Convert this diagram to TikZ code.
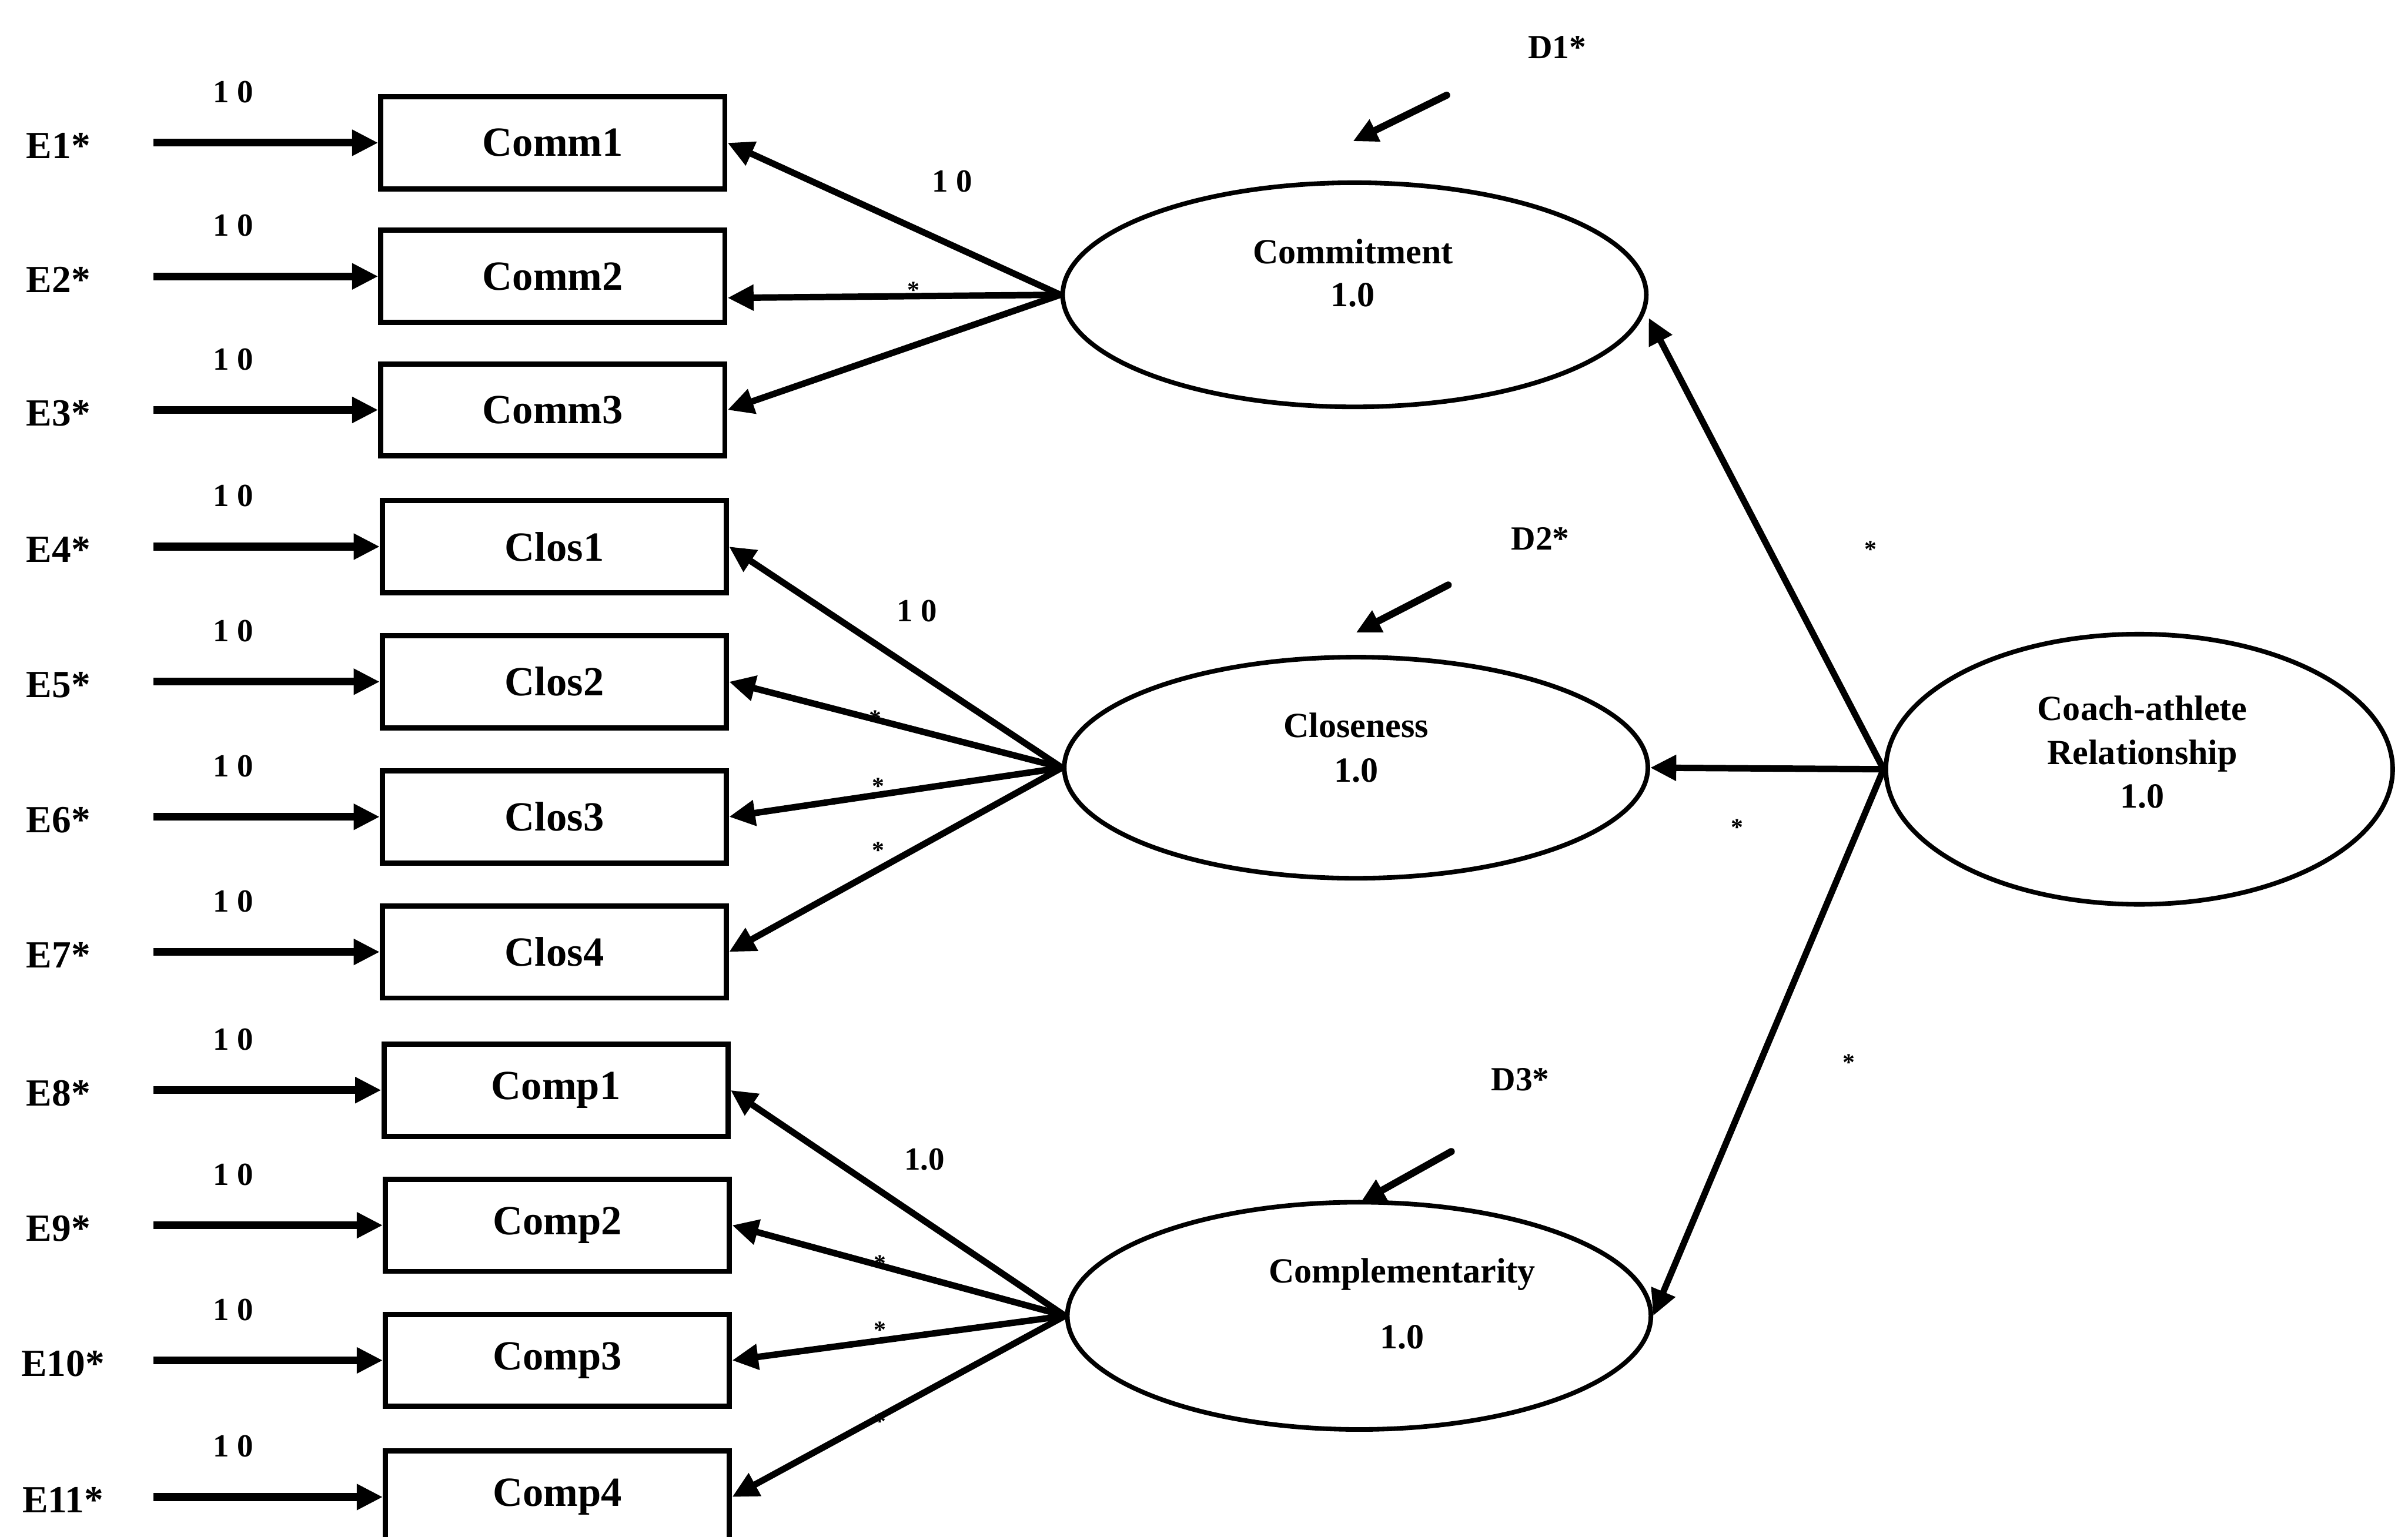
\documentclass[tikz,border=0pt]{standalone}
\usepackage{fontspec}
\setmainfont{Liberation Serif}
\usetikzlibrary{arrows.meta,shapes.geometric,calc}

\begin{document}
\begin{tikzpicture}[x=1pt,y=-1pt,
  indicator/.style={draw,line width=3.4pt,minimum width=224pt,minimum height=60pt,inner sep=0pt,
    font=\fontsize{27}{30}\selectfont\bfseries},
  latent/.style={draw,ellipse,line width=3pt,inner sep=0pt},
  lattext/.style={align=center,inner sep=0pt,font=\fontsize{23}{28}\selectfont\bfseries},
  errlab/.style={inner sep=0pt,font=\fontsize{25}{30}\selectfont\bfseries},
  fixlab/.style={inner sep=0pt,font=\fontsize{21}{24}\selectfont\bfseries},
  freelab/.style={inner sep=0pt,font=\fontsize{16}{18}\selectfont\bfseries},
  errarrow/.style={line width=5pt,-{Triangle[length=17pt,width=16pt]}},
  loadarrow/.style={line width=4.2pt,-{Triangle[length=17pt,width=16pt]}},
  distarrow/.style={line width=4.6pt,line cap=round,-{Triangle[length=16pt,width=15pt]}}]

\useasboundingbox (0,0) rectangle (1568,1001);
\clip (0,0) rectangle (1568,1001);

% observed indicators
\node[indicator] (comm1) at (360,93)  {Comm1};
\node[indicator] (comm2) at (360,180) {Comm2};
\node[indicator] (comm3) at (360,267) {Comm3};
\node[indicator] (clos1) at (361,356) {Clos1};
\node[indicator] (clos2) at (361,444) {Clos2};
\node[indicator] (clos3) at (361,532) {Clos3};
\node[indicator] (clos4) at (361,620) {Clos4};
\node[indicator] (comp1) at (362,710) {Comp1};
\node[indicator] (comp2) at (363,798) {Comp2};
\node[indicator] (comp3) at (363,886) {Comp3};
\node[indicator] (comp4) at (363,975) {Comp4};

% error terms and their fixed paths
\foreach \i/\y/\t/\lx/\tgt in {1/93/E1*/38/comm1, 2/180/E2*/38/comm2, 3/267/E3*/38/comm3,
    4/356/E4*/38/clos1, 5/444/E5*/38/clos2, 6/532/E6*/38/clos3, 7/620/E7*/38/clos4,
    8/710/E8*/38/comp1, 9/798/E9*/38/comp2, 10/886/E10*/41/comp3, 11/975/E11*/41/comp4}{
  \node[errlab] (e\i) at (\lx,\y+2) {\t};
  \coordinate (es\i) at (100,\y);
  \draw[errarrow] (es\i) -- (\tgt.west);
  \node[fixlab] (ef\i) at (152,\y-33) {1 0};
}

% latent factors
\node[latent,minimum width=380pt,minimum height=146pt] (commit) at (882,192) {};
\node[latent,minimum width=380pt,minimum height=144pt] (close)  at (883,500) {};
\node[latent,minimum width=380pt,minimum height=148pt] (compl)  at (885,857) {};
\node[latent,minimum width=330pt,minimum height=176pt] (coach)  at (1393,501) {};

\node[lattext] (committxt) at (881,178) {Commitment\\1.0};
\node[lattext,font=\fontsize{23}{29}\selectfont\bfseries] (closetxt) at (883,487) {Closeness\\1.0};
\node[lattext,font=\fontsize{23}{43}\selectfont\bfseries] (compltxt) at (913,849) {Complementarity\\1.0};
\node[lattext,font=\fontsize{23}{28.5}\selectfont\bfseries] (coachtxt) at (1395,490) {Coach-athlete\\Relationship\\1.0};

% factor loadings
\draw[loadarrow] (commit.west) -- (comm1.east);
\draw[loadarrow] (commit.west) -- ($(comm2.east)+(0,14)$);
\draw[loadarrow] (commit.west) -- (comm3.east);
\draw[loadarrow] (close.west) -- (clos1.east);
\draw[loadarrow] (close.west) -- (clos2.east);
\draw[loadarrow] (close.west) -- (clos3.east);
\draw[loadarrow] (close.west) -- (clos4.east);
\draw[loadarrow] (compl.west) -- (comp1.east);
\draw[loadarrow] (compl.west) -- (comp2.east);
\draw[loadarrow] (compl.west) -- (comp3.east);
\draw[loadarrow] (compl.west) -- (comp4.east);

\node[fixlab] (lc1) at (620,118) {1 0};
\node[freelab] (lc2) at (595,189) {*};
\node[fixlab] (ll1) at (597,398) {1 0};
\node[freelab] (ll2) at (570,468) {*};
\node[freelab] (ll3) at (572,512) {*};
\node[freelab] (ll4) at (572,554) {*};
\node[fixlab] (lp1) at (602,755) {1.0};
\node[freelab] (lp2) at (573,823) {*};
\node[freelab] (lp3) at (573,866) {*};
\node[freelab] (lp4) at (573,926) {*};

% second-order paths
\draw[loadarrow] (coach.west) -- ($(commit.east)+(0,15)$);
\draw[loadarrow] (coach.west) -- (close.east);
\draw[loadarrow] (coach.west) -- (compl.east);
\node[freelab] (s1) at (1218,358) {*};
\node[freelab] (s2) at (1131,539) {*};
\node[freelab] (s3) at (1204,692) {*};

% disturbances
\node[errlab,font=\fontsize{22}{26}\selectfont\bfseries] (d1) at (1014,31) {D1*};
\node[errlab,font=\fontsize{22}{26}\selectfont\bfseries] (d2) at (1003,351) {D2*};
\node[errlab,font=\fontsize{22}{26}\selectfont\bfseries] (d3) at (990,703) {D3*};
\coordinate (d1s) at (942,62);  \coordinate (d1e) at (881,92);
\coordinate (d2s) at (943,381); \coordinate (d2e) at (883,412);
\coordinate (d3s) at (945,750); \coordinate (d3e) at (886,783);
\draw[distarrow] (d1s) -- (d1e);
\draw[distarrow] (d2s) -- (d2e);
\draw[distarrow] (d3s) -- (d3e);
\end{tikzpicture}
\end{document}
